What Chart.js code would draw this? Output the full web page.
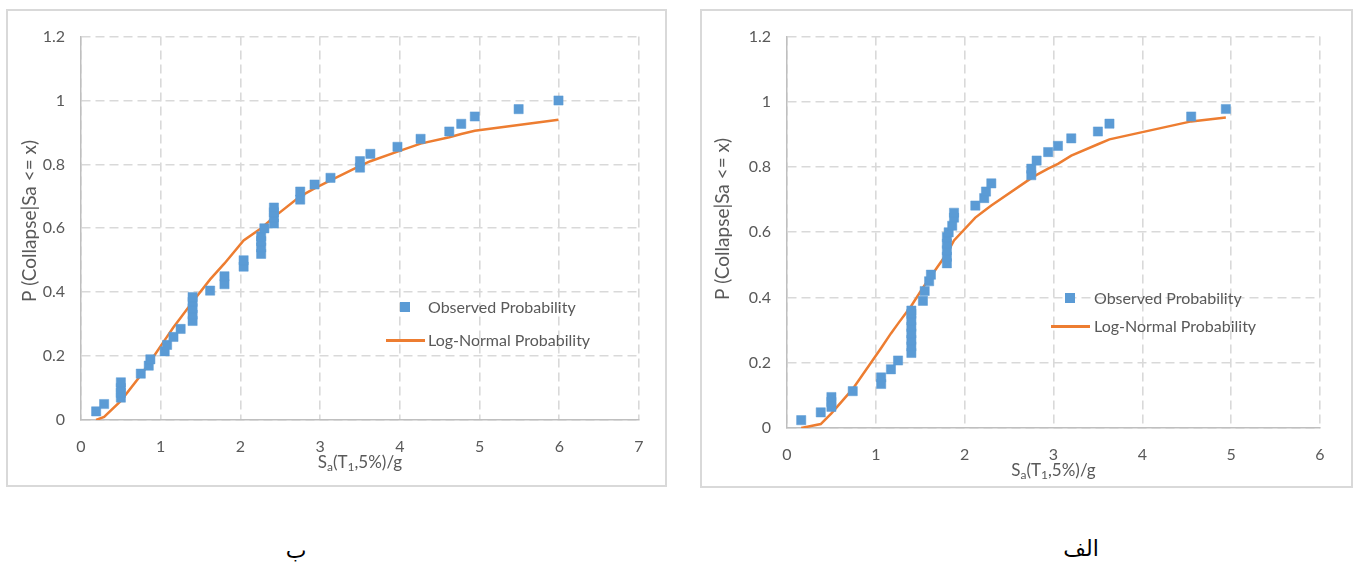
<!DOCTYPE html>
<html><head><meta charset="utf-8">
<script src="https://cdn.jsdelivr.net/npm/chart.js@4.4.1/dist/chart.umd.min.js"></script>
<style>
body{margin:0;width:1354px;height:565px;background:#fff;position:relative;overflow:hidden;font-family:Lato,sans-serif;}
.box{position:absolute;border:2px solid #d9d9d9;background:#fff;}
.box canvas{position:absolute;left:0;top:0;}
.lt{position:absolute;font-size:16px;line-height:18px;color:#595959;white-space:nowrap;font-family:Lato,sans-serif;}
.lm{position:absolute;width:10px;height:10px;background:#5b9bd5;}
.ll{position:absolute;height:3px;background:#ed7d31;}
.cap{position:absolute;font-family:"DejaVu Sans",sans-serif;font-size:22px;color:#000;direction:rtl;transform:translate(-50%,-50%);}
</style></head>
<body>
<div class="box" style="left:6px;top:9px;width:657px;height:474px;"><canvas id="c1" width="657" height="474"></canvas></div>
<div class="box" style="left:700px;top:9px;width:649px;height:475px;"><canvas id="c2" width="649" height="475"></canvas></div>

<div class="lm" style="left:400px;top:302px;"></div>
<div class="lt" style="left:428px;top:298px;">Observed Probability</div>
<div class="ll" style="left:386px;top:339px;width:39px;"></div>
<div class="lt" style="left:428px;top:331px;">Log-Normal Probability</div>

<div class="lm" style="left:1065px;top:293px;"></div>
<div class="lt" style="left:1094px;top:289px;">Observed Probability</div>
<div class="ll" style="left:1051px;top:325px;width:39px;"></div>
<div class="lt" style="left:1094px;top:317px;">Log-Normal Probability</div>

<div class="cap" style="left:296px;top:550px;">ب</div>
<div class="cap" style="left:1081px;top:548px;">الف</div>

<script>
// ---- data: chart "ب" (left) ----
const leftObsX = [0.19,0.29,0.5,0.5,0.5,0.5,0.75,0.85,0.87,1.05,1.08,1.16,1.25,1.4,1.4,1.4,1.4,1.4,1.62,1.8,1.8,2.04,2.04,2.26,2.26,2.26,2.26,2.3,2.42,2.42,2.42,2.42,2.75,2.75,2.93,3.13,3.5,3.5,3.63,3.97,4.26,4.62,4.77,4.94,5.49,5.99];
const leftObsY = [0.027,0.05,0.07,0.085,0.10,0.118,0.145,0.17,0.19,0.215,0.235,0.26,0.285,0.31,0.33,0.35,0.37,0.385,0.405,0.425,0.45,0.48,0.5,0.52,0.54,0.56,0.575,0.6,0.615,0.635,0.65,0.665,0.69,0.715,0.737,0.758,0.79,0.81,0.833,0.855,0.88,0.903,0.927,0.95,0.973,1.0];
const leftFitX = [0.19,0.29,0.5,0.75,0.86,1.05,1.16,1.25,1.4,1.62,1.8,2.04,2.26,2.42,2.75,2.93,3.13,3.5,3.63,3.97,4.26,4.62,4.77,4.94,5.99];
const leftFitY = [0.0,0.01,0.06,0.14,0.18,0.25,0.29,0.32,0.37,0.44,0.49,0.562,0.60,0.635,0.70,0.725,0.75,0.795,0.81,0.84,0.865,0.885,0.895,0.905,0.94];
const leftXTicks = [0,1,2,3,4,5,6,7];

// ---- data: chart "الف" (right) ----
const rightObsX = [0.16,0.38,0.5,0.5,0.5,0.74,1.06,1.06,1.17,1.25,1.4,1.4,1.4,1.4,1.4,1.4,1.4,1.4,1.53,1.55,1.6,1.62,1.8,1.8,1.8,1.8,1.8,1.82,1.86,1.88,1.88,2.12,2.22,2.24,2.3,2.75,2.75,2.81,2.94,3.05,3.2,3.5,3.63,4.55,4.94];
const rightObsY = [0.024,0.048,0.065,0.08,0.095,0.113,0.135,0.155,0.18,0.207,0.23,0.25,0.27,0.29,0.31,0.33,0.35,0.36,0.39,0.42,0.45,0.47,0.505,0.525,0.545,0.565,0.585,0.6,0.62,0.645,0.66,0.682,0.705,0.725,0.75,0.775,0.795,0.82,0.846,0.865,0.888,0.909,0.933,0.955,0.978];
const rightFitX = [0.16,0.38,0.5,0.74,1.06,1.17,1.25,1.4,1.53,1.62,1.8,1.88,2.12,2.24,2.3,2.75,2.81,2.94,3.05,3.2,3.5,3.63,4.55,4.94];
const rightFitY = [0.0,0.012,0.045,0.12,0.245,0.29,0.32,0.375,0.43,0.465,0.535,0.575,0.645,0.67,0.682,0.766,0.776,0.795,0.81,0.835,0.87,0.885,0.94,0.952];
const rightXTicks = [0,1,2,3,4,5,6];

// ---- shared ----
const yTicks = [0,0.2,0.4,0.6,0.8,1,1.2];
const yTickLabels = ['0','0.2','0.4','0.6','0.8','1','1.2'];
const yTitle = 'P (Collapse|Sa <= x)';
const xTitleParts = [['S',0],['a',1],['(T',0],['1',1],[',5%)/g',0]];
const seriesNames = ['Observed Probability','Log-Normal Probability'];

const TXT = '#595959';
const FONT = 'Lato, sans-serif';

const axisTitles = {
  id: 'axisTitles',
  afterDraw(chart, args, o) {
    const ctx = chart.ctx;
    ctx.save();
    ctx.fillStyle = TXT;
    ctx.font = '19px ' + FONT;
    ctx.textAlign = 'center';
    ctx.textBaseline = 'middle';
    ctx.translate(o.yx, o.yy);
    ctx.rotate(-Math.PI / 2);
    ctx.fillText(yTitle, 0, 0);
    ctx.restore();

    ctx.save();
    ctx.fillStyle = TXT;
    ctx.textBaseline = 'alphabetic';
    ctx.textAlign = 'left';
    const big = '17px ' + FONT, small = '12px ' + FONT;
    let w = 0;
    for (const [t, s] of xTitleParts) { ctx.font = s ? small : big; w += ctx.measureText(t).width; }
    const cx = (chart.chartArea.left + chart.chartArea.right) / 2;
    let x = cx - w / 2;
    for (const [t, s] of xTitleParts) {
      ctx.font = s ? small : big;
      ctx.fillText(t, x, o.xy + (s ? 3 : 0));
      x += ctx.measureText(t).width;
    }
    ctx.restore();
  }
};

function pts(xs, ys) { return xs.map((x, i) => ({x, y: ys[i]})); }

function makeChart(id, obsX, obsY, fitX, fitY, xTicks, L) {
  const grid = {color: '#d9d9d9', lineWidth: 1.6, drawTicks: false};
  const border = {color: '#bfbfbf', width: 1.5, dash: [9, 5]};
  new Chart(document.getElementById(id), {
    type: 'scatter',
    data: {
      datasets: [
        {label: seriesNames[0], data: pts(obsX, obsY), pointStyle: 'rect', pointRadius: 6.5,
         backgroundColor: '#5b9bd5', borderColor: '#5b9bd5', borderWidth: 0.5, showLine: false},
        {label: seriesNames[1], data: pts(fitX, fitY), showLine: true, pointRadius: 0,
         borderColor: '#ed7d31', borderWidth: 2.5, tension: 0, fill: false}
      ]
    },
    options: {
      responsive: false, animation: false, devicePixelRatio: 1,
      layout: {padding: {left: 0, right: L.pr, top: 13, bottom: 0}},
      plugins: {legend: {display: false}, tooltip: {enabled: false}, axisTitles: L.titles},
      scales: {
        x: {
          type: 'linear', min: xTicks[0], max: xTicks[xTicks.length - 1],
          afterBuildTicks: s => { s.ticks = xTicks.map(v => ({value: v})); },
          afterFit: s => { s.height = L.xh; },
          ticks: {color: TXT, font: {size: 16, family: FONT}, padding: L.xpad, callback: v => String(v)},
          grid, border
        },
        y: {
          min: 0, max: 1.2,
          afterBuildTicks: s => { s.ticks = yTicks.map(v => ({value: v})); },
          afterFit: s => { s.width = L.yw; },
          ticks: {color: TXT, font: {size: 16, family: FONT}, padding: 16,
                  callback: (v, i) => yTickLabels[i]},
          grid, border
        }
      }
    },
    plugins: [axisTitles]
  });
}

makeChart('c1', leftObsX, leftObsY, leftFitX, leftFitY, leftXTicks,
  {pr: 26, xh: 65, yw: 73, xpad: 17, titles: {yx: 22, yy: 210, xy: 457}});
makeChart('c2', rightObsX, rightObsY, rightFitX, rightFitY, rightXTicks,
  {pr: 31, xh: 58, yw: 85, xpad: 17, titles: {yx: 21, yy: 208, xy: 465}});
</script>
</body></html>
